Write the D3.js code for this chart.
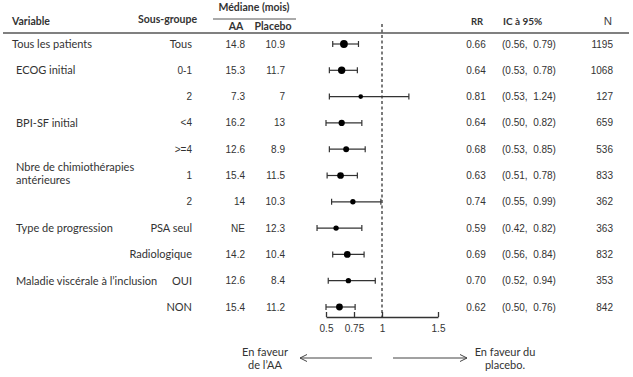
<!DOCTYPE html>
<html>
<head>
<meta charset="utf-8">
<script src="https://cdn.jsdelivr.net/npm/d3@7"></script>
<style>
  body { margin: 0; background: #fff; }
  svg text { fill: #333; }
</style>
</head>
<body>
<div id="forest"></div>
<script>
// table data, one entry per row
var variables = ["Tous les patients", "ECOG  initial", "", "BPI-SF initial", "", "Nbre de chimiothérapies|antérieures", "", "Type de progression", "", "Maladie viscérale à l’inclusion", ""];
var subgroups = ["Tous", "0-1", "2", "<4", ">=4", "1", "2", "PSA seul", "Radiologique", "OUI", "NON"];
var medianAA = ["14.8", "15.3", "7.3", "16.2", "12.6", "15.4", "14", "NE", "14.2", "12.6", "15.4"];
var medianPlacebo = ["10.9", "11.7", "7", "13", "8.9", "11.5", "10.3", "12.3", "10.4", "8.4", "11.2"];
var rr = [0.66, 0.64, 0.81, 0.64, 0.68, 0.63, 0.74, 0.59, 0.69, 0.70, 0.62];
var ciLow = [0.56, 0.53, 0.53, 0.50, 0.53, 0.51, 0.55, 0.42, 0.56, 0.52, 0.50];
var ciHigh = [0.79, 0.78, 1.24, 0.82, 0.85, 0.78, 0.99, 0.82, 0.84, 0.94, 0.76];
var nPatients = [1195, 1068, 127, 659, 536, 833, 362, 363, 832, 353, 842];
var axisTicks = [0.5, 0.75, 1, 1.5];

var width = 633, height = 377;
var labelFont = "Lato, 'Open Sans', sans-serif";
var numFont = "'Liberation Sans', Arial, sans-serif";
var labelSize = "11px", numSize = "10px", headSize = "10.5px";

var rows = rr.map(function (d, i) {
  return {i: i, variable: variables[i], sub: subgroups[i], aa: medianAA[i], pl: medianPlacebo[i],
          rr: d, lo: ciLow[i], hi: ciHigh[i], n: nPatients[i]};
});

var svg = d3.select("#forest").append("svg")
  .attr("width", width)
  .attr("height", height);

// scales
var x = d3.scaleLinear().domain([0.5, 1.5]).range([326, 438]);
var y = d3.scaleLinear().domain([0, rows.length - 1]).range([44, 307]);
var r = d3.scaleLinear().domain([100, 1200]).range([2.3, 3.9]);

// header
function head(tx, ty, txt, anchor, size) {
  svg.append("text").attr("x", tx).attr("y", ty).attr("text-anchor", anchor || "start").text(txt)
    .style("font-family", labelFont).style("font-weight", "bold").style("font-size", size || headSize);
}
head(12, 25, "Variable");
head(138, 23, "Sous-groupe");
head(254, 11, "Médiane (mois)", "middle");
svg.append("line").attr("x1", 213).attr("x2", 296).attr("y1", 19).attr("y2", 19)
  .attr("stroke", "#555").attr("stroke-width", 1);
head(236, 30, "AA", "middle");
head(273, 30, "Placebo", "middle");
head(477, 25, "RR", "middle", "9.5px");
head(503, 25, "IC à 95%", "start", "10px");
svg.append("text").attr("x", 608).attr("y", 25).attr("text-anchor", "middle").text("N")
  .style("font-family", numFont).style("font-size", "11.5px").style("fill", "#444");

svg.append("line").attr("x1", 3).attr("x2", 629).attr("y1", 33).attr("y2", 33)
  .attr("stroke", "#808080").attr("stroke-width", 2.2);

// reference line at RR = 1
svg.append("line")
  .attr("x1", x(1)).attr("x2", x(1)).attr("y1", 24).attr("y2", 317)
  .attr("stroke", "#444").attr("stroke-width", 1.4).attr("stroke-dasharray", "3,2.5");

// table rows
var row = svg.append("g").selectAll("g")
  .data(rows)
  .enter().append("g")
  .attr("transform", function (d) { return "translate(0," + y(d.i) + ")"; });

row.each(function (d) {
  var g = d3.select(this);
  var parts = d.variable.split("|");
  parts.forEach(function (p, k) {
    g.append("text")
      .attr("x", d.i === 0 ? 12 : 16)
      .attr("y", parts.length > 1 ? -8 + k * 13 : 0)
      .attr("dy", "0.35em")
      .text(p)
      .style("font-family", labelFont).style("font-size", labelSize);
  });
});

row.append("text")
  .attr("x", 192).attr("dy", "0.35em").attr("text-anchor", "end")
  .text(function (d) { return d.sub; })
  .style("font-family", function (d) { return /[a-zA-Z]/.test(d.sub) ? labelFont : numFont; })
  .style("font-size", function (d) { return /[a-zA-Z]/.test(d.sub) ? labelSize : numSize; });

row.append("text")
  .attr("x", 245).attr("dy", "0.35em").attr("text-anchor", "end")
  .text(function (d) { return d.aa; })
  .style("font-family", numFont).style("font-size", numSize);

row.append("text")
  .attr("x", 285).attr("dy", "0.35em").attr("text-anchor", "end")
  .text(function (d) { return d.pl; })
  .style("font-family", numFont).style("font-size", numSize);

row.append("text")
  .attr("x", 476).attr("dy", "0.35em").attr("text-anchor", "middle")
  .text(function (d) { return d.rr.toFixed(2); })
  .style("font-family", numFont).style("font-size", numSize);

row.append("text")
  .attr("x", 502).attr("dy", "0.35em")
  .text(function (d) { return "(" + d.lo.toFixed(2) + ",  " + d.hi.toFixed(2) + ")"; })
  .style("font-family", numFont).style("font-size", numSize)
  .style("white-space", "pre");

row.append("text")
  .attr("x", 613).attr("dy", "0.35em").attr("text-anchor", "end")
  .text(function (d) { return d.n; })
  .style("font-family", numFont).style("font-size", numSize);

// confidence intervals
row.append("line")
  .attr("x1", function (d) { return x(d.lo); })
  .attr("x2", function (d) { return x(d.hi); })
  .attr("stroke", "#333").attr("stroke-width", 1.2);
row.append("line")
  .attr("x1", function (d) { return x(d.lo); })
  .attr("x2", function (d) { return x(d.lo); })
  .attr("y1", -3).attr("y2", 3)
  .attr("stroke", "#333").attr("stroke-width", 1.2);
row.append("line")
  .attr("x1", function (d) { return x(d.hi); })
  .attr("x2", function (d) { return x(d.hi); })
  .attr("y1", -3).attr("y2", 3)
  .attr("stroke", "#333").attr("stroke-width", 1.2);
row.append("circle")
  .attr("cx", function (d) { return x(d.rr); })
  .attr("r", function (d) { return r(d.n); })
  .attr("fill", "#000");

// x axis
var ax = svg.append("g")
  .attr("transform", "translate(0,317)")
  .call(d3.axisBottom(x).tickValues(axisTicks).tickFormat(function (d) { return d; })
    .tickSizeInner(-5).tickSizeOuter(0).tickPadding(8));
ax.select(".domain").attr("stroke", "#333").attr("stroke-width", 1.3);
ax.selectAll(".tick line").attr("stroke", "#333").attr("stroke-width", 1.3);
ax.selectAll(".tick text")
  .style("font-family", numFont).style("font-size", numSize).style("fill", "#333");

// bottom annotations
function arrow(x1, x2, yy) {
  var dir = x2 > x1 ? 1 : -1;
  svg.append("line").attr("x1", x1).attr("x2", x2).attr("y1", yy).attr("y2", yy)
    .attr("stroke", "#444").attr("stroke-width", 1);
  svg.append("path")
    .attr("d", "M" + (x2 - dir * 7) + "," + (yy - 3.5) + "L" + x2 + "," + yy + "L" + (x2 - dir * 7) + "," + (yy + 3.5))
    .attr("fill", "none").attr("stroke", "#444").attr("stroke-width", 1);
}
arrow(372, 300, 358);
arrow(393, 467, 358);

[["En faveur", "de l’AA", 265], ["En faveur du", "placebo.", 505]].forEach(function (t) {
  svg.append("text").attr("x", t[2]).attr("y", 356).attr("text-anchor", "middle").text(t[0])
    .style("font-family", labelFont).style("font-size", labelSize);
  svg.append("text").attr("x", t[2]).attr("y", 369).attr("text-anchor", "middle").text(t[1])
    .style("font-family", labelFont).style("font-size", labelSize);
});
</script>
</body>
</html>
